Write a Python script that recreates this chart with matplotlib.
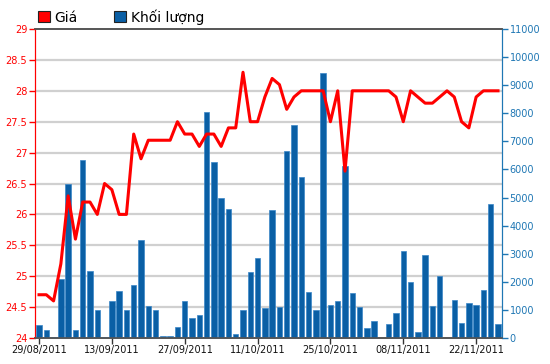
import matplotlib
matplotlib.use("Agg")
import matplotlib.pyplot as plt
from matplotlib.patches import Patch
from matplotlib.ticker import FixedLocator, FuncFormatter
import numpy as np

dates = [
    "29/08/2011", "30/08/2011", "31/08/2011", "01/09/2011", "05/09/2011", "06/09/2011",
    "07/09/2011", "08/09/2011", "09/09/2011", "12/09/2011", "13/09/2011", "14/09/2011",
    "15/09/2011", "16/09/2011", "19/09/2011", "20/09/2011", "21/09/2011", "22/09/2011",
    "23/09/2011", "26/09/2011", "27/09/2011", "28/09/2011", "29/09/2011", "30/09/2011",
    "03/10/2011", "04/10/2011", "05/10/2011", "06/10/2011", "07/10/2011", "10/10/2011",
    "11/10/2011", "12/10/2011", "13/10/2011", "14/10/2011", "17/10/2011", "18/10/2011",
    "19/10/2011", "20/10/2011", "21/10/2011", "24/10/2011", "25/10/2011", "26/10/2011",
    "27/10/2011", "28/10/2011", "31/10/2011", "01/11/2011", "02/11/2011", "03/11/2011",
    "04/11/2011", "07/11/2011", "08/11/2011", "09/11/2011", "10/11/2011", "11/11/2011",
    "14/11/2011", "15/11/2011", "16/11/2011", "17/11/2011", "18/11/2011", "21/11/2011",
    "22/11/2011", "23/11/2011", "24/11/2011", "25/11/2011",
]

price = [
    24.7, 24.7, 24.6, 25.2, 26.3, 25.6, 26.2, 26.2, 26.0, 26.5,
    26.4, 26.0, 26.0, 27.3, 26.9, 27.2, 27.2, 27.2, 27.2, 27.5,
    27.3, 27.3, 27.1, 27.3, 27.3, 27.1, 27.4, 27.4, 28.3, 27.5,
    27.5, 27.9, 28.2, 28.1, 27.7, 27.9, 28.0, 28.0, 28.0, 28.0,
    27.5, 28.0, 26.7, 28.0, 28.0, 28.0, 28.0, 28.0, 28.0, 27.9,
    27.5, 28.0, 27.9, 27.8, 27.8, 27.9, 28.0, 27.9, 27.5, 27.4,
    27.9, 28.0, 28.0, 28.0,
]

volume = [
    470, 290, 40, 2100, 5500, 300, 6350, 2370, 1000, 40,
    1320, 1670, 1000, 1880, 3480, 1150, 1000, 70, 70, 380,
    1320, 700, 830, 8030, 6260, 4990, 4590, 130, 1000, 2340,
    2860, 1060, 4550, 1090, 6670, 7600, 5740, 1625, 1000, 9450,
    1180, 1320, 6120, 1590, 1090, 340, 600, 0, 490, 880,
    3080, 1980, 225, 2950, 1150, 2190, 0, 1360, 520, 1230,
    1190, 1710, 4770, 490,
]

tick_labels = ["29/08/2011", "13/09/2011", "27/09/2011", "11/10/2011",
               "25/10/2011", "08/11/2011", "22/11/2011"]
price_ticks = [24, 24.5, 25, 25.5, 26, 26.5, 27, 27.5, 28, 28.5, 29]
volume_ticks = list(range(0, 11001, 1000))

RED = "#ff0000"
BLUE = "#0a5fa5"
AXBLUE = "#1f77b4"

fig = plt.figure(figsize=(5.5, 3.64), dpi=100)
ax_v = fig.add_axes([35 / 550, 1 - 338 / 364, (502 - 35) / 550, (338 - 29) / 364])
ax_p = ax_v.twinx()

x = np.arange(len(dates))
tick_pos = [dates.index(t) for t in tick_labels]

# volume bars (right axis)
ax_v.bar(x, volume, width=0.75, color=BLUE, edgecolor="#3a86c8", linewidth=0.5, zorder=3)
ax_v.set_ylim(0, 11000)
ax_v.set_xlim(-0.55, len(dates) - 0.45)
ax_v.yaxis.tick_right()
ax_v.yaxis.set_label_position("right")
ax_v.set_yticks(volume_ticks)
ax_v.yaxis.set_major_formatter(FuncFormatter(lambda v, p: f"{int(v)}"))
ax_v.tick_params(axis="y", colors=AXBLUE, labelsize=7, length=4, width=1, pad=1.5)

# gridlines aligned with price ticks
ax_v.yaxis.set_minor_locator(FixedLocator(np.linspace(0, 11000, len(price_ticks))))
ax_v.tick_params(axis="y", which="minor", length=0)
ax_v.grid(which="minor", axis="y", color="#d0d0d0", linewidth=1.6, zorder=0)
ax_v.set_axisbelow(True)

ax_v.set_xticks(tick_pos)
ax_v.set_xticklabels(tick_labels)
ax_v.tick_params(axis="x", colors="#333333", labelcolor="#111111", labelsize=7, length=4, width=1, pad=1)

# price line (left axis)
ax_p.plot(x, price, color=RED, linewidth=2.2, solid_joinstyle="round", zorder=5)
ax_p.set_ylim(24, 29)
ax_p.yaxis.tick_left()
ax_p.yaxis.set_label_position("left")
ax_p.set_yticks(price_ticks)
ax_p.yaxis.set_major_formatter(FuncFormatter(lambda v, p: f"{v:g}"))
ax_p.tick_params(axis="y", colors=RED, labelsize=7, length=4, width=1, pad=1.5)

for a in (ax_v, ax_p):
    a.spines["top"].set_color("#555555")
    a.spines["bottom"].set_color("#555555")
    a.spines["top"].set_linewidth(1.2)
    a.spines["bottom"].set_linewidth(1.2)
    a.spines["left"].set_color(RED)
    a.spines["right"].set_color(AXBLUE)

handles = [Patch(facecolor=RED, edgecolor="#222222", linewidth=0.8, label="Giá"),
           Patch(facecolor=BLUE, edgecolor="#222222", linewidth=0.8, label="Khối lượng")]
fig.legend(handles=handles, loc="center left", bbox_to_anchor=(38 / 550, 1 - 17 / 364),
           ncol=2, frameon=False, fontsize=10, handlelength=0.85, handleheight=0.85,
           handletextpad=0.35, columnspacing=2.6, borderpad=0, borderaxespad=0)

fig.savefig("out.png", dpi=100, facecolor="white")
